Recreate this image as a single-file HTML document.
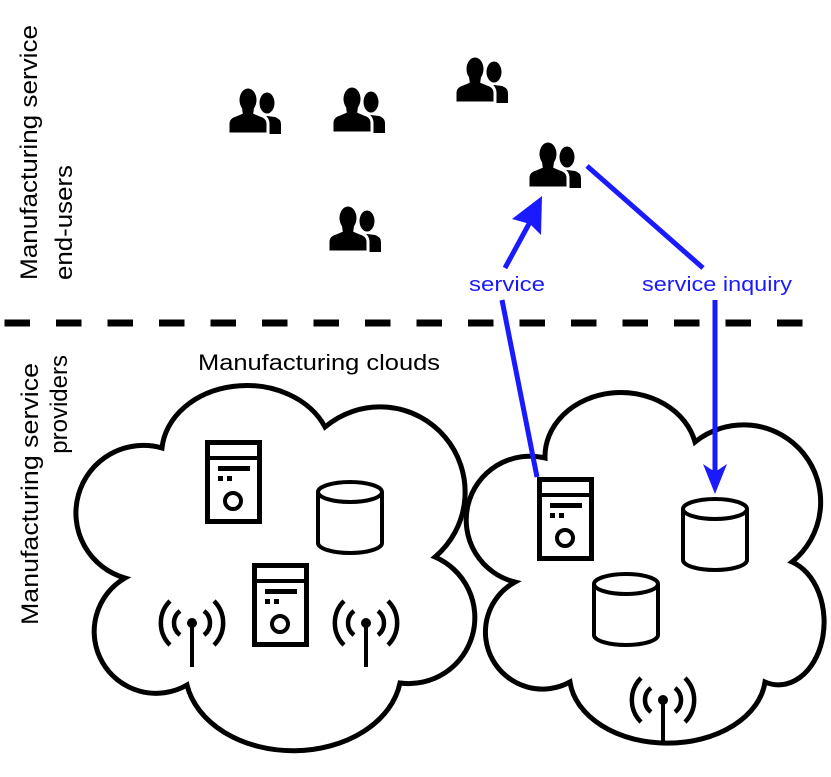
<!DOCTYPE html>
<html><head><meta charset="utf-8"><style>html,body{margin:0;padding:0;background:#fff}svg{display:block}</style></head><body>
<svg width="831" height="777" viewBox="0 0 831 777" xmlns="http://www.w3.org/2000/svg" font-family="Liberation Sans, sans-serif">
<defs>
<g id="usr">
 <ellipse cx="39" cy="15" rx="7.5" ry="10.5" fill="#000"/>
 <path d="M33 46 L33 31 L39 28 L47 29 Q53 31 53 36 L53 46Z" fill="#000"/>
 <path d="M0 46 L0 36 Q0 29 8 27 L15 24 L25 24 L32 27 Q40 29 40 36 L40 46 Z" fill="#000" stroke="#fff" stroke-width="3"/>
 <ellipse cx="20" cy="12" rx="8.5" ry="11.5" fill="#000"/>
 <path d="M14 20 L26 20 L25 27 L15 27Z" fill="#000"/>
</g>
<g id="srv" fill="none" stroke="#000">
 <rect x="2.5" y="2.5" width="52" height="79" stroke-width="5"/>
 <line x1="2.5" y1="18" x2="54.5" y2="18" stroke-width="4"/>
 <rect x="13" y="26" width="32" height="5" fill="#000" stroke="none"/>
 <rect x="13" y="36" width="5" height="5" fill="#000" stroke="none"/>
 <rect x="22" y="36" width="5" height="5" fill="#000" stroke="none"/>
 <circle cx="28" cy="61" r="8" stroke-width="4"/>
</g>
<g id="cyl" fill="none" stroke="#000" stroke-width="4">
 <ellipse cx="34" cy="12" rx="32" ry="10"/>
 <path d="M2 12 L2 63 A32 10 0 0 0 66 63 L66 12"/>
</g>
<g id="ant" fill="none" stroke="#000" stroke-width="4.5">
 <circle cx="0" cy="0" r="5" fill="#000" stroke="none"/>
 <line x1="0" y1="0" x2="0" y2="44" stroke-width="4"/>
 <path d="M-12 -12 A15 15 0 0 0 -12 12"/>
 <path d="M12 -12 A15 15 0 0 1 12 12"/>
 <path d="M-22 -22 A31 31 0 0 0 -22 22"/>
 <path d="M22 -22 A31 31 0 0 1 22 22"/>
</g>
</defs>

<g font-size="24" fill="#000">
 <text transform="translate(37,280) rotate(-90)" textLength="255" lengthAdjust="spacingAndGlyphs">Manufacturing service</text>
 <text transform="translate(72,280) rotate(-90)" textLength="115" lengthAdjust="spacingAndGlyphs">end-users</text>
 <text transform="translate(38,625) rotate(-90)" textLength="262" lengthAdjust="spacingAndGlyphs">Manufacturing service</text>
 <text transform="translate(67,355) rotate(-90)" text-anchor="end">providers</text>
</g>

<line x1="4.5" y1="323" x2="810" y2="323" stroke="#000" stroke-width="7" stroke-dasharray="25.5 26"/>

<use href="#usr" x="228" y="88"/>
<use href="#usr" x="332" y="87"/>
<use href="#usr" x="455" y="57"/>
<use href="#usr" x="528" y="142"/>
<use href="#usr" x="328" y="206"/>

<text x="198" y="370" font-size="22" textLength="242" lengthAdjust="spacingAndGlyphs">Manufacturing clouds</text>

<path d="M125 578 A1 1 0 0 1 162 448 A85 68 0 0 1 325 427 A75 75 0 0 1 435 557 A66 66 0 0 1 400 683 A108 80 0 0 1 187 685 A1 1 0 0 1 125 578Z" fill="none" stroke="#000" stroke-width="5"/>
<path d="M515 582 A1 1 0 0 1 545 458 A76 64 0 0 1 695 442 A72 72 0 0 1 792 562 A45 62 0 0 1 765 682 A98 68 0 0 1 570 682 A1 1 0 0 1 515 582Z" fill="none" stroke="#000" stroke-width="5"/>

<use href="#srv" x="205" y="440"/>
<use href="#srv" x="252" y="563"/>
<use href="#srv" x="537" y="477"/>
<use href="#cyl" x="316" y="480"/>
<use href="#cyl" x="681" y="497"/>
<use href="#cyl" x="592" y="572"/>
<use href="#ant" x="192" y="623"/>
<use href="#ant" x="366" y="623"/>
<use href="#ant" x="663" y="700"/>

<g stroke="#1a1aff" stroke-width="5" fill="none">
 <line x1="537" y1="477" x2="502" y2="300"/>
 <line x1="505" y1="268" x2="530" y2="222"/>
 <line x1="587" y1="166" x2="703" y2="268"/>
 <line x1="715" y1="300" x2="715" y2="472"/>
</g>
<polygon points="542,196 512,219 530,224 541,235" fill="#1a1aff"/>
<polygon points="715,494 703,464 715,472 727,464" fill="#1a1aff"/>
<g fill="#1a1aff" font-size="20">
 <text x="469" y="291" textLength="76" lengthAdjust="spacingAndGlyphs">service</text>
 <text x="642" y="291" textLength="150" lengthAdjust="spacingAndGlyphs">service inquiry</text>
</g>
</svg>
</body></html>
